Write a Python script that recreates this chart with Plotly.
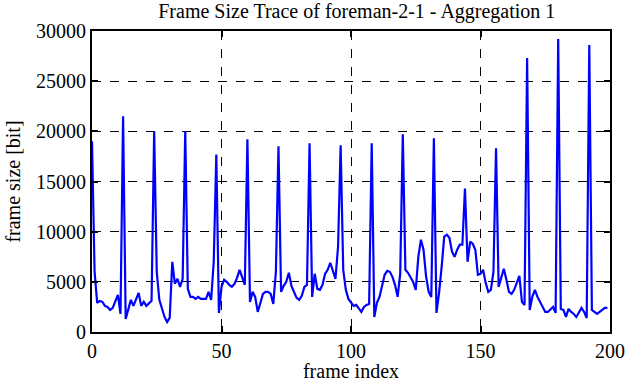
import plotly.graph_objects as go

frame_size = [
    19000, 6000, 2900, 3100, 3000, 2600, 2500, 2200, 2400, 3000,
    3700, 1800, 21500, 1300, 2300, 3200, 2600, 3200, 3900, 2600,
    3000, 2600, 2900, 3100, 20000, 6000, 3200, 2300, 1500, 1000,
    1400, 7000, 4800, 5300, 4500, 5300, 20000, 4300, 3500, 3500,
    3300, 3500, 3300, 3300, 3300, 4000, 3200, 7000, 17700, 1900,
    4500, 5200, 5000, 4700, 4500, 4800, 5400, 6200, 5400, 4700,
    19200, 3000, 4000, 3500, 2000, 2800, 3800, 4000, 4000, 3800,
    2800, 6000, 18500, 4000, 4600, 5000, 5900, 4600, 4000, 3400,
    3200, 3600, 4500, 4700, 18800, 3500, 5800, 4300, 4200, 4700,
    5800, 6200, 6900, 6000, 5300, 8500, 18600, 6200, 4200, 3300,
    3000, 2600, 2700, 2300, 2000, 2500, 2700, 2800, 18800, 1500,
    2900, 3500, 4700, 5700, 6100, 6000, 5500, 4700, 3500, 5800,
    19700, 6200, 5900, 5400, 5000, 4200, 7500, 9200, 8200, 5500,
    4000, 3500, 19300, 1900, 3900, 6500, 9500, 9700, 9400, 8000,
    7500, 8200, 8700, 8700, 14300, 7000, 9000, 8800, 8200, 5700,
    5800, 6200, 4900, 4000, 4200, 6000, 18300, 4500, 5500, 6300,
    5200, 4000, 3800, 4200, 4900, 5600, 3000, 2700, 27300, 2200,
    3500, 4200, 3500, 3000, 2400, 2000, 2000, 2300, 2500, 1900,
    29200, 2300, 2200, 1500, 2300, 2000, 1800, 1500, 2000, 2400,
    2000, 1400, 28600, 2200, 2000, 1800, 2000, 2200, 2400, 2400,
]
frame_index = list(range(len(frame_size)))

x_ticks = [0, 50, 100, 150, 200]
y_ticks = [0, 5000, 10000, 15000, 20000, 25000, 30000]

font_family = "Liberation Serif, Times New Roman, serif"

fig = go.Figure()
fig.add_trace(go.Scatter(
    x=frame_index, y=frame_size, mode="lines",
    line=dict(color="#0000ff", width=2.2),
    showlegend=False,
))

axis_common = dict(
    showline=True, linecolor="black", linewidth=2, mirror="ticks",
    ticks="inside", ticklen=6, tickwidth=2, tickcolor="black",
    showgrid=True, gridcolor="black", gridwidth=1, griddash="dash",
    zeroline=False, automargin=False, tickformat="d",
    tickfont=dict(family=font_family, size=20, color="black"),
)

fig.update_layout(
    width=626, height=382,
    paper_bgcolor="white", plot_bgcolor="white",
    margin=dict(l=92, r=16, t=31, b=50),
    title=dict(
        text="Frame Size Trace of foreman-2-1 - Aggregation 1",
        x=0.57, xanchor="center", xref="container",
        y=0.972, yanchor="middle", yref="container",
        font=dict(family=font_family, size=20, color="black"),
    ),
    font=dict(family=font_family, color="black"),
)
fig.update_xaxes(
    range=[0, 200], tickvals=x_ticks,
    title=dict(text="frame index", font=dict(family=font_family, size=20, color="black"), standoff=5),
    **axis_common,
)
fig.update_yaxes(
    range=[0, 30000], tickvals=y_ticks,
    title=dict(text="frame size [bit]", font=dict(family=font_family, size=20, color="black"), standoff=10),
    **axis_common,
)

fig.write_html(
    "out.html",
    config={"displayModeBar": False},
    post_script="document.body.style.margin='0';document.body.style.overflow='hidden';",
)
